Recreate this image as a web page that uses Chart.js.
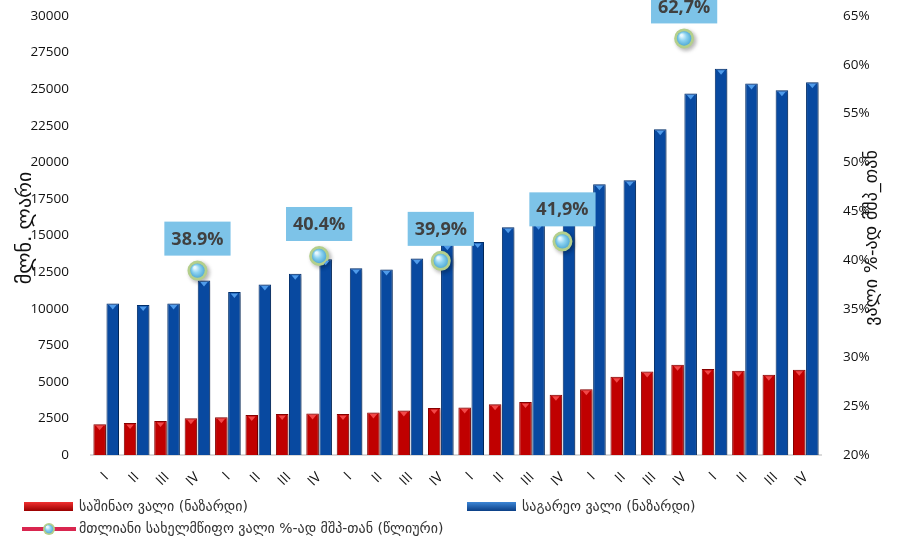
<!DOCTYPE html>
<html>
<head>
<meta charset="utf-8">
<script src="https://cdn.jsdelivr.net/npm/chart.js@4"></script>
<style>
  html, body { margin: 0; padding: 0; background: #fff; }
  #wrap { width: 903px; height: 537px; }
</style>
</head>
<body>
<div id="wrap"><canvas id="debt"></canvas></div>
<script>
const quarters = ['I','II','III','IV','I','II','III','IV','I','II','III','IV',
                  'I','II','III','IV','I','II','III','IV','I','II','III','IV'];
const domesticDebt = [2100, 2190, 2330, 2510, 2580, 2740, 2810, 2830, 2810, 2900, 3040, 3220,
                      3240, 3470, 3630, 4110, 4500, 5340, 5710, 6160, 5870, 5750, 5480, 5820];
const externalDebt = [10360, 10250, 10360, 11920, 11140, 11660, 12380, 13380, 12760, 12670, 13420, 14400,
                      14550, 15570, 15800, 16480, 18500, 18770, 22260, 24700, 26390, 25390, 24930, 25480];
const debtToGdp = [null, null, null, 38.9, null, null, null, 40.4, null, null, null, 39.9,
                   null, null, null, 41.9, null, null, null, 62.7, null, null, null, null];
const debtLabels = ['38.9%', '40.4%', '39,9%', '41,9%', '62,7%'];
const leftTicks = { min: 0, max: 30000, step: 2500 };
const rightTicks = { min: 20, max: 65, step: 5 };

const geoFont = '"DejaVu Sans", "Noto Sans", sans-serif';
const numFont = '"Open Sans", "Liberation Sans", sans-serif';

// soft shadow behind bars and markers
const shadowPlugin = {
  id: 'shadow',
  beforeDatasetDraw(chart, args) {
    const c = chart.ctx;
    c.save();
    c.shadowColor = 'rgba(0,0,0,0.28)';
    c.shadowBlur = 4;
    c.shadowOffsetX = 2;
    c.shadowOffsetY = 2;
  },
  afterDatasetDraw(chart) {
    chart.ctx.restore();
  }
};

function sphere(c, x, y, r) {
  c.save();
  c.beginPath();
  c.arc(x, y, r, 0, Math.PI * 2);
  c.fillStyle = '#B4CF8C';
  c.fill();
  const g = c.createRadialGradient(x - r * 0.3, y - r * 0.35, 1, x, y, r - 1.5);
  g.addColorStop(0, '#E8F8FF');
  g.addColorStop(0.45, '#8ED3F0');
  g.addColorStop(1, '#4FA9D6');
  c.beginPath();
  c.arc(x, y, r - 1.8, 0, Math.PI * 2);
  c.fillStyle = g;
  c.fill();
  c.restore();
}

const decorPlugin = {
  id: 'decor',
  afterDatasetsDraw(chart) {
    const c = chart.ctx;
    // small caps on bar tops
    [[1, '#F24848'], [2, '#4F9BEA']].forEach(([di, col]) => {
      chart.getDatasetMeta(di).data.forEach(bar => {
        const w = bar.width;
        c.save();
        c.beginPath();
        c.moveTo(bar.x - w * 0.3, bar.y + 1.5);
        c.lineTo(bar.x + w * 0.3, bar.y + 1.5);
        c.lineTo(bar.x, bar.y + 6);
        c.closePath();
        c.fillStyle = col;
        c.fill();
        c.restore();
      });
    });
    // markers and value boxes
    const meta = chart.getDatasetMeta(0);
    let k = 0;
    meta.data.forEach((pt, i) => {
      if (debtToGdp[i] == null) return;
      sphere(c, pt.x, pt.y, 9);
      const txt = debtLabels[k++];
      c.save();
      c.font = 'bold 18px ' + numFont;
      const tw = c.measureText(txt).width;
      const bw = tw + 14, bh = 34;
      const bx = pt.x - bw / 2, by = pt.y - 15 - bh;
      c.fillStyle = '#7DC3E8';
      c.fillRect(bx, by, bw, bh);
      c.fillStyle = '#404040';
      c.textAlign = 'center';
      c.textBaseline = 'middle';
      c.fillText(txt, pt.x, by + bh / 2 + 1);
      c.restore();
    });
  },
  afterDraw(chart) {
    const c = chart.ctx;
    c.save();
    // axis titles
    c.fillStyle = '#111';
    c.font = '20px ' + geoFont;
    c.textAlign = 'center';
    c.textBaseline = 'middle';
    c.translate(26, 228);
    c.rotate(-Math.PI / 2);
    c.fillText('მლნ. ლარი', 0, 0);
    c.restore();
    c.save();
    c.fillStyle = '#111';
    c.font = '18px ' + geoFont;
    c.textAlign = 'center';
    c.textBaseline = 'middle';
    c.translate(872, 238);
    c.rotate(-Math.PI / 2);
    c.fillText('ვალი %-ად მშპ_თან', 0, 0);
    c.restore();

    // legend
    c.save();
    c.font = '14px ' + geoFont;
    c.textBaseline = 'middle';
    const redG = c.createLinearGradient(0, 502, 0, 511);
    redG.addColorStop(0, '#F03030'); redG.addColorStop(1, '#9A0000');
    c.fillStyle = redG;
    c.fillRect(24, 502, 49, 9);
    const blueG = c.createLinearGradient(0, 502, 0, 511);
    blueG.addColorStop(0, '#3C86D6'); blueG.addColorStop(1, '#0B3F86');
    c.fillStyle = blueG;
    c.fillRect(467, 502, 49, 9);
    c.fillStyle = '#333';
    c.fillText('საშინაო ვალი (ნაზარდი)', 79, 507);
    c.fillText('საგარეო ვალი (ნაზარდი)', 522, 507);
    c.strokeStyle = '#D9264F';
    c.lineWidth = 4;
    c.beginPath();
    c.moveTo(22, 529);
    c.lineTo(76, 529);
    c.stroke();
    sphere(c, 49, 529, 6);
    c.fillStyle = '#333';
    c.fillText('მთლიანი სახელმწიფო ვალი %-ად მშპ-თან (წლიური)', 79, 529);
    c.restore();
  }
};

new Chart(document.getElementById('debt'), {
  type: 'bar',
  data: {
    labels: quarters,
    datasets: [
      {
        type: 'line',
        label: 'მთლიანი სახელმწიფო ვალი %-ად მშპ-თან (წლიური)',
        data: debtToGdp,
        yAxisID: 'y1',
        showLine: false,
        pointRadius: 9,
        pointBackgroundColor: '#86CDEB',
        pointBorderColor: '#B4CF8C',
        pointBorderWidth: 2,
        order: 0
      },
      {
        label: 'საშინაო ვალი (ნაზარდი)',
        data: domesticDebt,
        backgroundColor: '#C00000',
        borderColor: '#8A0000',
        borderWidth: 1,
        barPercentage: 0.96,
        categoryPercentage: 0.86,
        order: 1
      },
      {
        label: 'საგარეო ვალი (ნაზარდი)',
        data: externalDebt,
        backgroundColor: '#0849A0',
        borderColor: '#00306E',
        borderWidth: 1,
        barPercentage: 0.96,
        categoryPercentage: 0.86,
        order: 1
      }
    ]
  },
  options: {
    responsive: true,
    maintainAspectRatio: false,
    animation: false,
    layout: { padding: { top: 16, left: 10, right: 0, bottom: 0 } },
    plugins: {
      legend: { display: false },
      tooltip: { enabled: false }
    },
    scales: {
      x: {
        grid: { display: false },
        border: { display: true, color: '#DADADA', width: 2 },
        ticks: {
          color: '#111',
          font: { family: numFont, size: 14 },
          minRotation: 45,
          maxRotation: 45,
          padding: 6
        },
        afterFit(scale) { scale.height = 82; scale.paddingTop = 0; }
      },
      y: {
        position: 'left',
        min: leftTicks.min,
        max: leftTicks.max,
        grid: { display: false },
        border: { display: false },
        ticks: {
          stepSize: leftTicks.step,
          color: '#111',
          padding: 14,
          font: { family: numFont, size: 13.5 },
          callback: v => String(v)
        },
        afterFit(scale) { scale.width = 81; scale.paddingTop = 0; }
      },
      y1: {
        position: 'right',
        min: rightTicks.min,
        max: rightTicks.max,
        grid: { display: false },
        border: { display: false },
        ticks: {
          stepSize: rightTicks.step,
          color: '#111',
          padding: 14,
          font: { family: numFont, size: 13.5 },
          callback: v => v + '%'
        },
        afterFit(scale) { scale.width = 82; scale.paddingTop = 0; }
      }
    }
  },
  plugins: [shadowPlugin, decorPlugin]
});
</script>
</body>
</html>
